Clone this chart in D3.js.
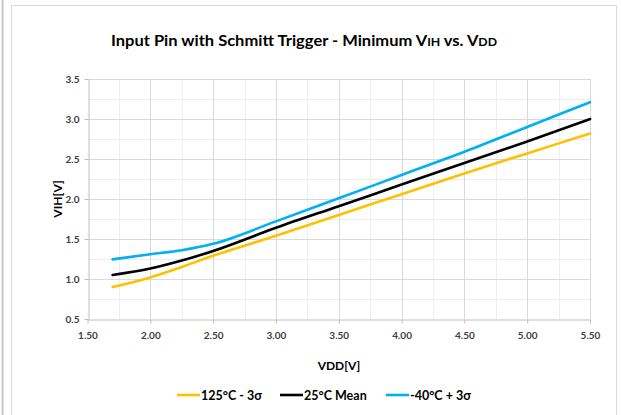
<!DOCTYPE html>
<html><head><meta charset="utf-8">
<script src="https://cdn.jsdelivr.net/npm/d3@7/dist/d3.min.js"></script>
<style>
html,body{margin:0;padding:0;background:#fff;}
svg{display:block;font-family:Lato,"Open Sans",sans-serif;}
</style></head>
<body>
<svg id="c" width="621" height="415"></svg>
<script>
const vdd = [1.7, 2.0, 2.25, 2.5, 3.0, 3.5, 4.0, 4.5, 5.0, 5.5];
const hot = [0.90, 1.02, 1.15, 1.29, 1.54, 1.80, 2.06, 2.32, 2.57, 2.82];
const mean = [1.05, 1.13, 1.23, 1.35, 1.64, 1.91, 2.18, 2.45, 2.72, 3.00];
const cold = [1.245, 1.31, 1.36, 1.44, 1.72, 2.01, 2.30, 2.59, 2.90, 3.21];
const seriesNames = ["125°C - 3σ", "25°C Mean", "-40°C + 3σ"];
const xTicks = [1.5, 2.0, 2.5, 3.0, 3.5, 4.0, 4.5, 5.0, 5.5];
const yTicks = [0.5, 1.0, 1.5, 2.0, 2.5, 3.0, 3.5];

const colors = ["#FFC000", "#000000", "#00B0F0"];
const svg = d3.select("#c");

// outer frame
svg.append("rect").attr("x", 1.5).attr("y", 0).attr("width", 2).attr("height", 415).attr("fill", "#c8c8c8");
svg.append("path").attr("d", "M11.5,420 V5.5 H616.5 V420").attr("fill", "none").attr("stroke", "#d9d9d9").attr("stroke-width", 1);

const x = d3.scaleLinear().domain([1.5, 5.5]).range([87.5, 590]);
const y = d3.scaleLinear().domain([0.5, 3.5]).range([319, 79]);

// minor grid
const xMinor = d3.range(1.75, 5.5, 0.5);
const yMinor = d3.range(0.75, 3.5, 0.5);
const g = svg.append("g");
g.selectAll(".xm").data(xMinor).join("line")
  .attr("x1", d => Math.round(x(d)) + 0.5).attr("x2", d => Math.round(x(d)) + 0.5)
  .attr("y1", y(3.5)).attr("y2", y(0.5)).attr("stroke", "#eeeeee");
g.selectAll(".ym").data(yMinor).join("line")
  .attr("x1", x(1.5)).attr("x2", x(5.5))
  .attr("y1", d => Math.round(y(d)) + 0.5).attr("y2", d => Math.round(y(d)) + 0.5).attr("stroke", "#eeeeee");
// major grid
g.selectAll(".xM").data(xTicks.slice(1)).join("line")
  .attr("x1", d => Math.round(x(d)) + 0.5).attr("x2", d => Math.round(x(d)) + 0.5)
  .attr("y1", y(3.5)).attr("y2", y(0.5)).attr("stroke", "#d9d9d9");
g.selectAll(".yM").data(yTicks.slice(1)).join("line")
  .attr("x1", x(1.5)).attr("x2", x(5.5))
  .attr("y1", d => Math.round(y(d)) + 0.5).attr("y2", d => Math.round(y(d)) + 0.5).attr("stroke", "#d9d9d9");

// axes
const xAxis = svg.append("g").attr("transform", `translate(0,${Math.round(y(0.5)) + 0.5})`)
  .call(d3.axisBottom(x).tickValues(xTicks).tickFormat(d3.format(".2f")).tickSizeOuter(0).tickSizeInner(4).tickPadding(8));
const yAxis = svg.append("g").attr("transform", `translate(${Math.round(x(1.5)) + 0.5},0)`)
  .call(d3.axisLeft(y).tickValues(yTicks).tickFormat(d3.format(".1f")).tickSizeOuter(0).tickSizeInner(4).tickPadding(5));
[xAxis, yAxis].forEach(a => {
  a.select(".domain").attr("stroke", "#bfbfbf");
  a.selectAll(".tick line").attr("stroke", "#bfbfbf");
  a.selectAll("text").attr("fill", "#404040").attr("font-weight", "bold").attr("font-size", "10px")
    .attr("font-family", "Lato, sans-serif");
});

// lines
const line = d3.line().x(d => x(d[0])).y(d => y(d[1])).curve(d3.curveMonotoneX);
[hot, mean, cold].forEach((s, i) => {
  svg.append("path").datum(vdd.map((v, j) => [v, s[j]]))
    .attr("d", line).attr("fill", "none").attr("stroke", colors[i]).attr("stroke-width", 2.6)
    .attr("stroke-linecap", "round");
});

// title
const t = svg.append("text").attr("x", 304).attr("y", 46).attr("text-anchor", "middle")
  .attr("font-weight", "bold").attr("font-size", "15.5px").attr("fill", "#000")
  .attr("textLength", 386).attr("lengthAdjust", "spacingAndGlyphs");
t.append("tspan").text("Input Pin with Schmitt Trigger - Minimum V");
t.append("tspan").attr("font-size", "11.5px").text("IH");
t.append("tspan").text(" vs. V");
t.append("tspan").attr("font-size", "11.5px").text("DD");

// axis titles
svg.append("text").attr("transform", "translate(62,199) rotate(-90)").attr("text-anchor", "middle")
  .attr("font-weight", "bold").attr("font-size", "12px").attr("fill", "#000").text("VIH[V]");
svg.append("text").attr("x", 339).attr("y", 370).attr("text-anchor", "middle")
  .attr("font-weight", "bold").attr("font-size", "12px").attr("fill", "#000").text("VDD[V]");

// legend
const legX = [177, 280, 386];
seriesNames.forEach((n, i) => {
  svg.append("line").attr("x1", legX[i]).attr("x2", legX[i] + 23).attr("y1", 395).attr("y2", 395)
    .attr("stroke", colors[i]).attr("stroke-width", 2.6);
  svg.append("text").attr("x", legX[i] + 24).attr("y", 399.5)
    .attr("font-weight", "bold").attr("font-size", "12.5px").attr("fill", "#000").text(n);
});
</script>
</body></html>
